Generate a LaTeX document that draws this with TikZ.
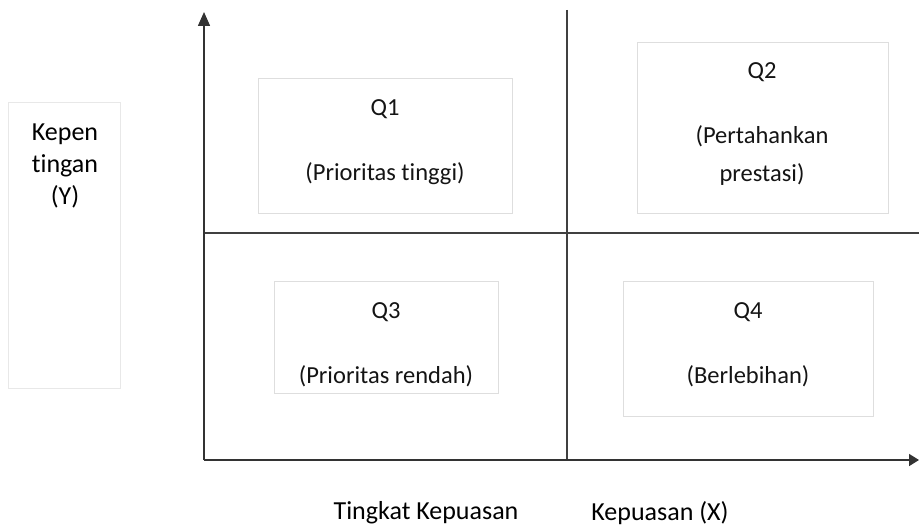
\documentclass[tikz,border=0pt]{standalone}
\usepackage{fontspec}
\setmainfont[Ligatures=NoCommon]{Carlito}
\usetikzlibrary{arrows.meta}
\begin{document}
\begin{tikzpicture}[x=1pt,y=-1pt,
  axis/.style={line width=1.6pt,draw=black!80},
  divider/.style={line width=1.3pt,draw=black!75},
  qbox/.style={draw=black!13,line width=0.9pt,inner sep=0pt},
  intext/.style={font=\fontsize{24.5}{31}\selectfont,text=black!92,inner sep=0pt},
  outtext/.style={font=\fontsize{26}{32}\selectfont,text=black,inner sep=0pt,align=center}]
\useasboundingbox (0,0) rectangle (919,532);
% coordinates
\coordinate (O) at (204,460);
\coordinate (Ytop) at (204,12);
\coordinate (Xend) at (919,460);
\coordinate (Vtop) at (567,10);
\coordinate (Vbot) at (567,460);
\coordinate (Hl) at (204,233);
\coordinate (Hr) at (919,233);
% boxes
\node[qbox,draw=black!9,minimum width=112,minimum height=286] (ybox) at (64,245) {};
\node[qbox,minimum width=254,minimum height=135] (b1) at (385,145.5) {};
\node[qbox,minimum width=251,minimum height=171] (b2) at (762.5,127.5) {};
\node[qbox,minimum width=224,minimum height=112] (b3) at (386,337) {};
\node[qbox,minimum width=250,minimum height=135] (b4) at (748,348.5) {};
% axes
\draw[divider] (Vtop) -- (Vbot);
\draw[divider] (Hl) -- (Hr);
\draw[axis,-{Triangle[width=12pt,length=14pt]}] (O) -- (Ytop);
\draw[axis,-{Triangle[width=12pt,length=10pt]}] (O) -- (Xend);
% texts
\node[outtext] (ylab) at (65,166) {Kepen\\tingan\\(Y)};
\node[intext] (q1) at (385,109) {Q1};
\node[intext] (q1t) at (385,174) {(Prioritas tinggi)};
\node[intext] (q2) at (762,72) {Q2};
\node[intext,align=center] (q2t) at (762,156) {(Pertahankan\\[7pt]prestasi)};
\node[intext] (q3) at (386,312) {Q3};
\node[intext] (q3t) at (386,376) {(Prioritas rendah)};
\node[intext] (q4) at (748,312) {Q4};
\node[intext] (q4t) at (748,376) {(Berlebihan)};
\node[outtext] (xl1) at (426,513) {Tingkat Kepuasan};
\node[outtext] (xl2) at (660,513) {Kepuasan (X)};
\end{tikzpicture}
\end{document}
